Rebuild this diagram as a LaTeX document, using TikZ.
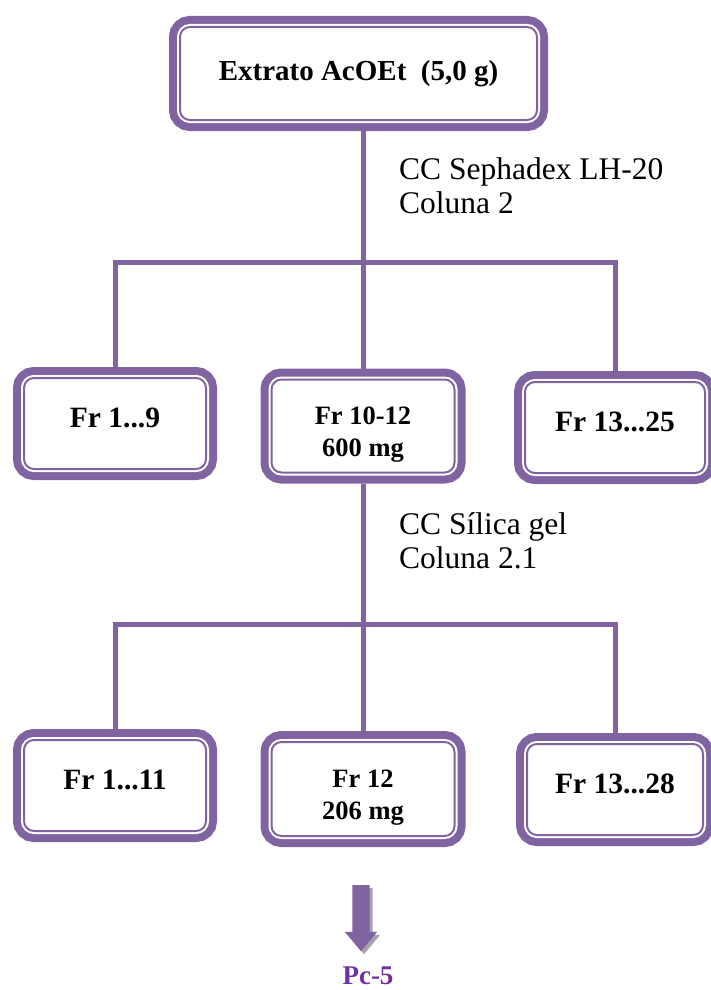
\documentclass[tikz,border=0pt]{standalone}
\usepackage{fontspec}
\setmainfont{Liberation Serif}
\usetikzlibrary{positioning,shapes.arrows}
\definecolor{boxpurple}{RGB}{128,100,162}
\definecolor{pcpurple}{RGB}{112,48,160}
\definecolor{arrowshade}{RGB}{166,162,176}

\begin{document}
\begin{tikzpicture}[x=1pt,y=-1pt,
    fracbox/.style={rectangle,rounded corners=10pt,draw=boxpurple,line width=2pt,fill=white,
      inner sep=0pt,outer sep=11pt,align=center,minimum width=182pt,minimum height=91pt,
      font=\fontsize{29.5}{32}\selectfont\bfseries,text depth=12pt,
      preaction={draw=boxpurple,line width=22pt},
      preaction={draw=white,line width=6pt}},
    twoline/.style={font=\fontsize{26.5}{32}\selectfont\bfseries,text depth={},text height=66pt},
    link/.style={draw=boxpurple,line width=5pt},
    method/.style={anchor=west,align=left,inner sep=0pt,font=\fontsize{31.5}{34}\selectfont},
    downarrow/.style={single arrow,rotate=-90,minimum height=66pt,minimum width=32pt,
      single arrow head extend=7.5pt,single arrow tip angle=80,inner xsep=0pt,inner ysep=8.5pt}]
  \useasboundingbox (0,0) rectangle (710,990);

  % extract and first column
  \node[fracbox,minimum width=357pt,minimum height=93pt,text depth={},
    font=\fontsize{29}{34}\selectfont\bfseries]
    (extr) at (358.5,73.5) {Extrato AcOEt~ (5,0 g)};
  \node[fracbox] (fr1) at (115,423.5) {Fr 1...9};
  \node[fracbox,twoline,minimum width=183pt,minimum height=93pt] (fr2) at (363,426) {Fr 10-12\\600 mg};
  \node[fracbox,minimum width=180pt] (fr3) at (615,427.5) {Fr 13...25};
  \node[method] (col1) at (399,186) {CC Sephadex LH-20\\Coluna 2};

  \coordinate (bar1) at (363,262);
  \draw[link] (fr2.north |- extr.south) -- (fr2.north);
  \draw[link] (fr1.north) |- (bar1) -| (fr3.north);

  % second column
  \node[fracbox] (fr4) at (115,785.5) {Fr 1...11};
  \node[fracbox,twoline,minimum width=183pt,minimum height=94pt] (fr5) at (363,789) {Fr 12\\206 mg};
  \node[fracbox,minimum width=176pt] (fr6) at (615,789.5) {Fr 13...28};
  \node[method] (col2) at (399,541) {CC Sílica gel\\Coluna 2.1};

  \coordinate (bar2) at (363,624);
  \draw[link] (fr2.south) -- (fr5.north);
  \draw[link] (fr4.north) |- (bar2) -| (fr6.north);

  % isolated compound
  \foreach \dx/\col in {3/arrowshade,0/boxpurple}
    \node[downarrow,fill=\col] (arr\dx) at (361+\dx,913+\dx) {};
  \node[font=\fontsize{27}{30}\selectfont\bfseries,text=pcpurple] (pc5) at (368,976) {Pc-5};
\end{tikzpicture}
\end{document}
